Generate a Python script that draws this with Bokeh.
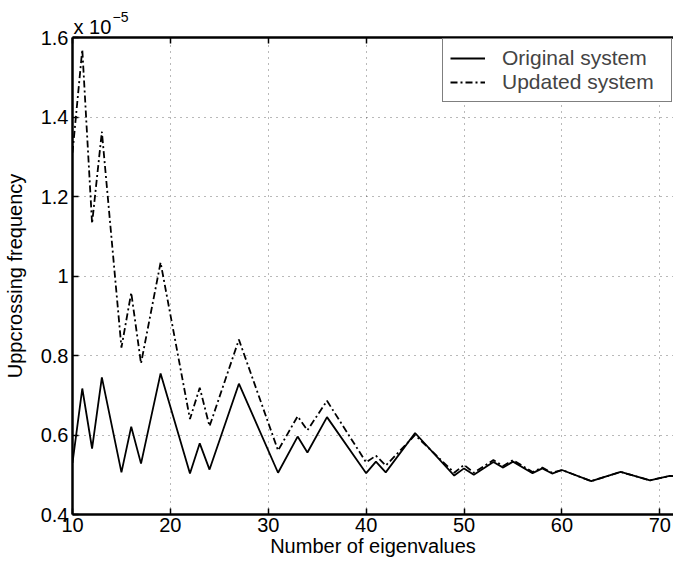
from bokeh.plotting import figure
from bokeh.models import (Range1d, LinearAxis, FixedTicker, Legend, LegendItem,
                          Title, CustomJSTickFormatter)
from bokeh.embed import file_html
from bokeh.resources import INLINE

# Number of eigenvalues (vertices of the curves)
orig_x = [10, 11, 12, 13, 15, 16, 17, 19, 22, 23, 24, 27, 31, 33, 34, 36, 40, 41, 42,
          45, 49, 50, 51, 53, 54, 55, 57, 58, 59, 60, 63, 66, 69, 71, 72]
# Upcrossing frequency, original system (x 1e-5)
orig_y = [0.530, 0.717, 0.566, 0.745, 0.506, 0.621, 0.528, 0.755, 0.503, 0.579, 0.513,
          0.729, 0.505, 0.596, 0.556, 0.645, 0.504, 0.533, 0.506, 0.605, 0.498, 0.516,
          0.500, 0.532, 0.518, 0.533, 0.504, 0.516, 0.503, 0.512, 0.484, 0.507, 0.486,
          0.497, 0.495]

upd_x = [10, 11, 12, 13, 15, 16, 17, 19, 22, 23, 24, 27, 31, 33, 34, 36, 40, 41, 42,
         45, 49, 50, 51, 53, 54, 55, 57, 58, 59, 60, 63, 66, 69, 71, 72]
# Upcrossing frequency, updated system (x 1e-5)
upd_y = [1.310, 1.570, 1.132, 1.363, 0.820, 0.958, 0.780, 1.034, 0.640, 0.719, 0.622,
         0.840, 0.561, 0.647, 0.612, 0.686, 0.531, 0.548, 0.523, 0.600, 0.505, 0.525,
         0.505, 0.537, 0.522, 0.537, 0.507, 0.518, 0.505, 0.512, 0.484, 0.507, 0.486,
         0.497, 0.495]

x_ticks = [10, 20, 30, 40, 50, 60, 70]
y_ticks = [0.4, 0.6, 0.8, 1.0, 1.2, 1.4, 1.6]

FONT = "Liberation Sans"
FS = "20px"

p = figure(width=673, height=569, output_backend="svg", toolbar_location=None,
           x_range=Range1d(10, 71.4), y_range=Range1d(0.4, 1.6),
           min_border_left=72, min_border_right=0, min_border_top=37,
           min_border_bottom=55)
p.outline_line_color = None
p.background_fill_color = "white"
p.border_fill_color = "white"

fmt = CustomJSTickFormatter(code="return (Math.round(tick*10)/10).toString();")

for ax, ticks in ((p.xaxis[0], x_ticks), (p.yaxis[0], y_ticks)):
    ax.ticker = FixedTicker(ticks=ticks)
    ax.axis_line_width = 2.5
    ax.axis_line_color = "black"
    ax.major_tick_in = 6
    ax.major_tick_out = 0
    ax.major_tick_line_width = 1.5
    ax.minor_tick_line_color = None
    ax.major_label_text_font = FONT
    ax.major_label_text_font_size = FS
    ax.major_label_text_color = "black"
    ax.axis_label_text_font = FONT
    ax.axis_label_text_font_size = FS
    ax.axis_label_text_font_style = "normal"
    ax.axis_label_text_color = "black"

p.yaxis[0].formatter = fmt
p.xaxis[0].axis_label = "Number of eigenvalues"
p.yaxis[0].axis_label = "Uppcrossing frequency"
p.xaxis[0].major_label_standoff = 3
p.xaxis[0].axis_label_standoff = 0
p.yaxis[0].major_label_standoff = 4
p.yaxis[0].axis_label_standoff = 12

top = LinearAxis(ticker=FixedTicker(ticks=x_ticks), axis_line_width=2.5,
                 major_tick_in=6, major_tick_out=0, major_tick_line_width=1.5,
                 minor_tick_line_color=None,
                 formatter=CustomJSTickFormatter(code="return '';"),
                 major_label_standoff=0)
p.add_layout(top, "above")

# y-axis multiplier "x 10^-5": base text next to the frame, exponent above it
p.add_layout(Title(text="x 10", align="left", offset=1, standoff=0,
                   text_font=FONT, text_font_size=FS, text_font_style="normal",
                   text_color="black"), "above")
p.title = Title(text="\u22125", align="left", offset=40, standoff=-16,
                text_font=FONT, text_font_size="14px", text_font_style="normal",
                text_color="black")

for g, ticks in ((p.xgrid[0], x_ticks), (p.ygrid[0], y_ticks)):
    g.ticker = FixedTicker(ticks=ticks)
    g.grid_line_color = "black"
    g.grid_line_alpha = 0.55
    g.grid_line_width = 1
    g.grid_line_dash = "1 5"

r1 = p.line(orig_x, orig_y, line_color="black", line_width=1.8)
r2 = p.line(upd_x, upd_y, line_color="black", line_width=1.8, line_dash="7 3 2 3")

legend = Legend(items=[LegendItem(label="Original system", renderers=[r1]),
                       LegendItem(label="Updated system", renderers=[r2])],
                location="top_right", margin=1, padding=7, spacing=0,
                glyph_width=35, glyph_height=22, label_height=22,
                label_standoff=17, label_width=162,
                label_text_font=FONT, label_text_font_size="21px",
                border_line_color="black", border_line_width=1.2,
                background_fill_color="white", background_fill_alpha=1)
p.add_layout(legend, "center")

open("out.html", "w").write(file_html(p, INLINE))
